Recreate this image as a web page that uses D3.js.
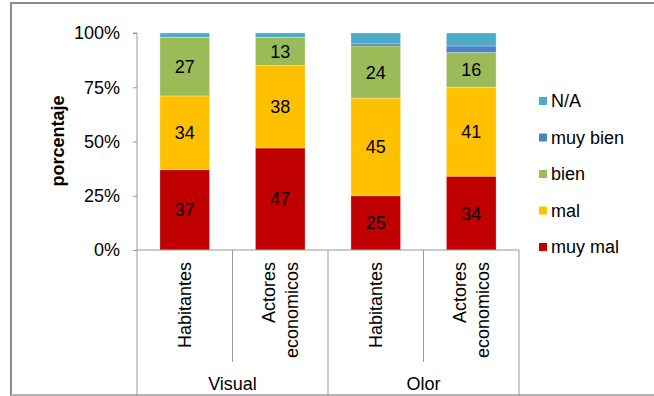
<!DOCTYPE html>
<html><head><meta charset="utf-8">
<script src="https://cdn.jsdelivr.net/npm/d3@7"></script>
<style>body{margin:0;background:#fff}svg{display:block;font-family:"Liberation Sans",Arial,sans-serif}</style>
</head><body><svg id="c" width="654" height="396"></svg>
<script>
const groups = ["Visual","Visual","Olor","Olor"];
const subcats = ["Habitantes","Actores economicos","Habitantes","Actores economicos"];
const series = ["muy mal","mal","bien","muy bien","N/A"];
const colors = ["#C00000","#FFC000","#9BBB59","#4F81BD","#4BACC6"];
const muyMal = [37,47,25,34];
const mal = [34,38,45,41];
const bien = [27,13,24,16];
const muyBien = [0,0,1,3];
const na = [2,2,5,6];
const yTicks = [0,25,50,75,100];
const yTickLabels = ["0%","25%","50%","75%","100%"];

const values = [muyMal, mal, bien, muyBien, na];
const svg = d3.select("#c");
const L = 137, R = 519, T = 33, B = 250;
const axisColor = "#999";
const FS = 18;

// outer frame
svg.append("rect").attr("x",11).attr("y",3).attr("width",660).attr("height",392)
  .attr("fill","none").attr("stroke","#8c8c8c").attr("stroke-width",2);
svg.append("line").attr("x1",11).attr("x2",654).attr("y1",395).attr("y2",395).attr("stroke","#ddd").attr("stroke-width",1);

const x = d3.scaleBand().domain(d3.range(4)).range([L,R]).paddingInner(0.48).paddingOuter(0.24);
const y = d3.scaleLinear().domain([0,100]).range([B,T]);

const data = d3.range(4).map(i => {
  const o = {i};
  series.forEach((s,k)=> o[s] = values[k][i]);
  return o;
});
const stack = d3.stack().keys(series)(data);

stack.forEach((layer,k)=>{
  svg.append("g").selectAll("rect").data(layer).join("rect")
    .attr("x", d=>x(d.data.i)).attr("width", x.bandwidth())
    .attr("y", d=>y(d[1])).attr("height", d=>Math.max(0,y(d[0])-y(d[1])))
    .attr("fill", colors[k]).attr("stroke","rgba(255,255,255,0.35)").attr("stroke-width",0.8);
  if (k < 3) {
    svg.append("g").selectAll("text").data(layer).join("text")
      .attr("x", d=>x(d.data.i)+x.bandwidth()/2)
      .attr("y", d=>(y(d[0])+y(d[1]))/2)
      .attr("dy","0.36em").attr("text-anchor","middle")
      .attr("font-size",FS).attr("fill","#000")
      .text(d=>d[1]-d[0]);
  }
});

// y axis
const yAxis = d3.axisLeft(y).tickValues(yTicks).tickFormat((d,i)=>yTickLabels[i]).tickSize(4).tickPadding(13);
const ga = svg.append("g").attr("transform",`translate(${L},0)`).call(yAxis);
ga.select(".domain").attr("stroke",axisColor).attr("d",`M-4,${T}H0V${B}`);
ga.selectAll(".tick line").attr("stroke",axisColor);
ga.selectAll(".tick text").attr("font-size",FS).attr("fill","#000").attr("font-family","Liberation Sans, Arial, sans-serif");

// x axis base and category separators
svg.append("line").attr("x1",L).attr("x2",R).attr("y1",B).attr("y2",B).attr("stroke",axisColor);
const step = (R-L)/4;
[0,2,4].forEach(k=>{
  svg.append("line").attr("x1",L+k*step).attr("x2",L+k*step).attr("y1",B).attr("y2",396).attr("stroke",axisColor);
});
[1,3].forEach(k=>{
  svg.append("line").attr("x1",L+k*step).attr("x2",L+k*step).attr("y1",B).attr("y2",362).attr("stroke",axisColor);
});

// category labels rotated
subcats.forEach((c,i)=>{
  const cx = x(i)+x.bandwidth()/2;
  const words = c.split(" ");
  const lh = 23;
  const g = svg.append("g").attr("transform",`translate(${cx},262) rotate(-90)`);
  words.forEach((w,j)=>{
    g.append("text").attr("x",0).attr("y",(j-(words.length-1)/2)*lh).attr("dy","0.36em")
      .attr("text-anchor","end").attr("font-size",FS).attr("fill","#000").text(w);
  });
});
// group labels
["Visual","Olor"].forEach((gname,k)=>{
  svg.append("text").attr("x",L+(2*k+1)*step).attr("y",384).attr("dy","0.36em")
    .attr("text-anchor","middle").attr("font-size",FS).attr("fill","#000").text(gname);
});

// y title
svg.append("text").attr("transform","translate(58,141) rotate(-90)").attr("text-anchor","middle")
  .attr("dy","0.36em").attr("font-size",FS).attr("font-weight","bold").attr("fill","#000").text("porcentaje");

// legend
const legendOrder = [4,3,2,1,0];
const lg = svg.append("g");
legendOrder.forEach((k,j)=>{
  const ly = 101 + j*36.5;
  lg.append("rect").attr("x",539).attr("y",ly-4).attr("width",8).attr("height",8).attr("fill",colors[k]);
  lg.append("text").attr("x",551).attr("y",ly).attr("dy","0.36em").attr("font-size",FS).attr("fill","#000").text(series[k]);
});
</script></body></html>
